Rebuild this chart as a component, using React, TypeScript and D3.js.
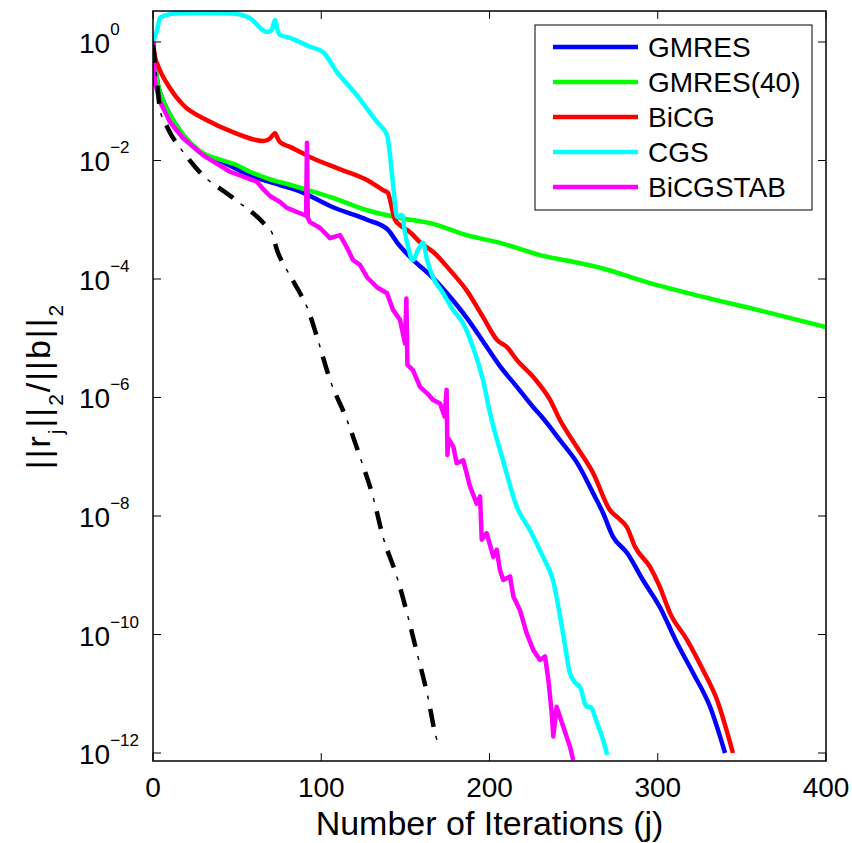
import React from 'react';
import * as d3 from 'd3';

// iteration number j and log10(||r_j|| / ||b||)
const gmresIter = [0, 1.2, 3, 5.9, 10.1, 17.8, 27.9, 41.6, 57.7, 67.8, 87.4, 107, 127.2, 139.7, 145, 152.8, 166.4, 176.5, 186.6, 196.1, 206.2, 216.3, 225.9, 231.8, 241.9, 252, 261.5, 267.5, 273.4, 281.7, 291.2, 301.3, 311.4, 321, 331.1, 340];
const gmresLog = [0, -0.39, -0.73, -0.98, -1.23, -1.57, -1.86, -2.03, -2.25, -2.35, -2.52, -2.79, -3.0, -3.17, -3.38, -3.63, -3.98, -4.3, -4.66, -5.05, -5.47, -5.82, -6.16, -6.35, -6.72, -7.1, -7.61, -7.95, -8.35, -8.62, -9.08, -9.54, -10.14, -10.65, -11.22, -12.0];

const gmres40Iter = [0, 1.2, 3, 5.9, 10.1, 17.8, 27.9, 41.6, 50, 57.7, 67.8, 81.4, 87.4, 107, 127.2, 146.8, 166.4, 186.6, 206.2, 231.8, 249.6, 265.7, 295.4, 325.1, 354.8, 400];
const gmres40Log = [0, -0.39, -0.73, -0.98, -1.23, -1.56, -1.84, -2.0, -2.08, -2.19, -2.3, -2.41, -2.46, -2.63, -2.84, -2.97, -3.07, -3.26, -3.39, -3.61, -3.71, -3.81, -4.07, -4.29, -4.49, -4.81];

const bicgIter = [0, 1.2, 3, 10.1, 17.8, 32.1, 47.5, 65.4, 68.4, 71, 72.5, 74, 75.5, 81.4, 93.3, 109.4, 127.2, 136.7, 139.7, 140.9, 143.8, 146.8, 152.8, 158.7, 166.4, 176.5, 186.6, 196.1, 204.5, 210.4, 216.3, 225.9, 236, 241.9, 252, 261.5, 271.6, 276.4, 281.7, 286.5, 295.4, 301.3, 307.3, 317.4, 326.9, 335.2, 344.7];
const bicgLog = [0, -0.25, -0.4, -0.78, -1.06, -1.32, -1.52, -1.67, -1.65, -1.58, -1.54, -1.62, -1.69, -1.77, -1.94, -2.13, -2.33, -2.5, -2.55, -2.67, -3.0, -3.09, -3.21, -3.38, -3.54, -3.85, -4.2, -4.64, -5.03, -5.15, -5.37, -5.65, -6.04, -6.38, -6.84, -7.27, -7.9, -8.03, -8.19, -8.52, -8.86, -9.2, -9.64, -10.09, -10.6, -11.1, -12.0];

const cgsIter = [0, 2.4, 4.2, 10.1, 17.8, 30, 47.5, 57.7, 67.8, 70.5, 72.5, 74, 75.5, 81.4, 93.3, 101, 109.4, 121.2, 133.1, 139.1, 142.6, 145, 148, 149.8, 151.6, 154.5, 157.5, 160.5, 162.9, 166.4, 172.4, 178.3, 184.2, 190.2, 196.1, 200.3, 208, 216.3, 224.1, 231.8, 237.7, 243.7, 247.8, 250.5, 253.8, 257.9, 259.7, 263.9, 267.5, 270];
const cgsLog = [0, 0.2, 0.41, 0.47, 0.485, 0.49, 0.48, 0.4, 0.17, 0.2, 0.37, 0.2, 0.12, 0.07, -0.08, -0.17, -0.51, -0.9, -1.35, -1.57, -2.38, -2.95, -2.92, -3.22, -3.46, -3.68, -3.51, -3.39, -3.68, -3.97, -4.24, -4.52, -4.74, -5.15, -5.7, -6.26, -7.06, -7.85, -8.24, -8.69, -9.08, -9.98, -10.65, -10.8, -10.89, -11.22, -11.22, -11.49, -11.78, -12.03];

const bicgstabIter = [0, 1.2, 4.2, 10.1, 17.8, 29.7, 45.8, 61.8, 65.4, 69.5, 75.5, 79.6, 87.4, 91, 91.5, 92, 93.3, 99.3, 105.2, 111.1, 115.1, 118.9, 123, 127.2, 133.1, 139.1, 142.6, 146.8, 149.8, 150.6, 151.2, 154.5, 158.7, 162.9, 166.4, 170.6, 173.3, 174.5, 175, 175.5, 178.5, 180.5, 184.4, 188.4, 192.4, 194.4, 195.4, 198.3, 202.3, 204.3, 206.2, 208.2, 212.2, 214.2, 218.1, 222.1, 226, 230, 233, 235, 237, 237.9, 239.9, 243.9, 247.8, 249.8];
const bicgstabLog = [0, -0.68, -1.01, -1.35, -1.62, -1.91, -2.19, -2.36, -2.48, -2.6, -2.7, -2.8, -2.89, -2.93, -1.7, -2.97, -3.04, -3.14, -3.31, -3.26, -3.46, -3.68, -3.76, -3.97, -4.14, -4.24, -4.52, -4.69, -5.09, -4.33, -5.45, -5.54, -5.82, -5.93, -6.04, -6.1, -6.32, -5.87, -6.97, -6.69, -6.83, -7.11, -7.06, -7.5, -7.79, -7.67, -8.4, -8.29, -8.69, -8.57, -8.91, -9.08, -9.02, -9.36, -9.59, -9.98, -10.26, -10.43, -10.37, -10.77, -11.33, -11.72, -11.22, -11.56, -11.89, -12.12];

const boundIter = [0, 1, 2.2, 4.2, 7.5, 10.1, 17.8, 27.9, 47.5, 67.8, 70.7, 73.7, 79.6, 87.4, 91.5, 97.5, 105.2, 115.3, 123, 130.8, 136.7, 145, 151, 156.9, 162.9, 168.8, 170];
const boundLog = [-0.05, -0.3, -0.6, -1.15, -1.38, -1.53, -1.85, -2.2, -2.63, -3.12, -3.22, -3.51, -3.85, -4.24, -4.47, -4.98, -5.7, -6.38, -7.0, -7.68, -8.35, -9.03, -9.64, -10.31, -10.99, -11.78, -11.86];

const seriesNames = ['GMRES', 'GMRES(40)', 'BiCG', 'CGS', 'BiCGSTAB'];
const seriesColors = ['#0000ff', '#00ff00', '#ff0000', '#00ffff', '#ff00ff'];

const xTicks = [0, 100, 200, 300, 400];
const yTickExp = [0, -2, -4, -6, -8, -10, -12];

const W = 852;
const H = 843;
const plot = { left: 153, right: 826, top: 11, bottom: 761 };
const font = "'Liberation Sans', Arial, Helvetica, sans-serif";

const x = d3.scaleLinear().domain([0, 400]).range([plot.left, plot.right]);
const y = d3.scaleLog().domain([7.33e-13, 3.334]).range([plot.bottom, plot.top]);

const zip = (it: number[], lg: number[]) => it.map((j, i) => [j, Math.pow(10, lg[i])] as [number, number]);

const smooth = d3.line<[number, number]>().x(d => x(d[0])).y(d => y(d[1])).curve(d3.curveMonotoneX);
const jagged = d3.line<[number, number]>().x(d => x(d[0])).y(d => y(d[1]));

const series = [
  { data: zip(gmresIter, gmresLog), line: smooth },
  { data: zip(gmres40Iter, gmres40Log), line: smooth },
  { data: zip(bicgIter, bicgLog), line: smooth },
  { data: zip(cgsIter, cgsLog), line: smooth },
  { data: zip(bicgstabIter, bicgstabLog), line: jagged },
];

const App = () => {
  const boundPath = smooth(zip(boundIter, boundLog)) || '';
  const tick = 8;
  const sup = (e: number) => (e === 0 ? '0' : '\u2212' + Math.abs(e));

  return (
    <div style={{ position: 'absolute', left: 0, top: 0 }}>
      <svg width={W} height={H} style={{ display: 'block', background: '#fff' }}>
        <defs>
          <clipPath id="plotClip">
            <rect x={plot.left} y={plot.top} width={plot.right - plot.left} height={plot.bottom - plot.top} />
          </clipPath>
        </defs>

        <g clipPath="url(#plotClip)" fill="none" strokeLinejoin="round">
          {series.map((s, i) => (
            <path key={seriesNames[i]} d={s.line(s.data) || ''} stroke={seriesColors[i]} strokeWidth={4.5} />
          ))}
          {/* dash-dot reference curve: thick dashes plus thin dots */}
          <path d={boundPath} stroke="#000" strokeWidth={4.5} strokeDasharray="18 23" />
          <path d={boundPath} stroke="#000" strokeWidth={1.5} strokeDasharray="4 37" strokeDashoffset={13.5} />
        </g>

        {/* box and ticks */}
        <rect x={plot.left} y={plot.top} width={plot.right - plot.left} height={plot.bottom - plot.top}
          fill="none" stroke="#000" strokeWidth={1.5} />
        <g stroke="#000" strokeWidth={1}>
          {xTicks.map(t => (
            <g key={'xt' + t}>
              <line x1={x(t)} x2={x(t)} y1={plot.bottom} y2={plot.bottom - tick} />
              <line x1={x(t)} x2={x(t)} y1={plot.top} y2={plot.top + tick} />
            </g>
          ))}
          {yTickExp.map(e => (
            <g key={'yt' + e}>
              <line x1={plot.left} x2={plot.left + tick} y1={y(Math.pow(10, e))} y2={y(Math.pow(10, e))} />
              <line x1={plot.right} x2={plot.right - tick} y1={y(Math.pow(10, e))} y2={y(Math.pow(10, e))} />
            </g>
          ))}
        </g>

        <g fontFamily={font} fill="#000">
          {xTicks.map(t => (
            <text key={'xl' + t} x={x(t)} y={797} fontSize={28} textAnchor="middle">{t}</text>
          ))}
          {yTickExp.map(e => (
            <text key={'yl' + e} x={79} y={y(Math.pow(10, e)) + 11} fontSize={28}>
              10<tspan fontSize={17} dy={-18}>{sup(e)}</tspan>
            </text>
          ))}

          <text x={(plot.left + plot.right) / 2} y={835} fontSize={34} textAnchor="middle">
            Number of Iterations (j)
          </text>

          <text transform={`translate(50,${(plot.top + plot.bottom) / 2}) rotate(-90)`} fontSize={34}
            textAnchor="middle" letterSpacing={2}>
            ||r<tspan fontSize={21} dy={13}>j</tspan><tspan dy={-13}>||</tspan><tspan fontSize={21} dy={13}>2</tspan><tspan dy={-13}>/||b||</tspan><tspan fontSize={21} dy={13}>2</tspan>
          </text>
        </g>

        {/* legend */}
        <g fontFamily={font}>
          <rect x={535} y={25} width={277} height={185} fill="#fff" stroke="#000" strokeWidth={1} />
          {seriesNames.map((name, i) => {
            const ly = 47 + i * 35;
            return (
              <g key={'lg' + name}>
                <line x1={553} x2={638} y1={ly} y2={ly} stroke={seriesColors[i]} strokeWidth={4.5} />
                <text x={648} y={ly} dy="0.35em" fontSize={28} fill="#000">{name}</text>
              </g>
            );
          })}
        </g>
      </svg>
    </div>
  );
};

export default App;
